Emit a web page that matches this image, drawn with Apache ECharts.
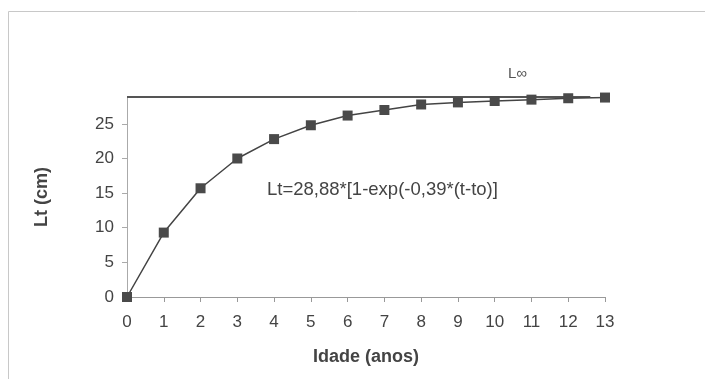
<!DOCTYPE html>
<html>
<head>
<meta charset="utf-8">
<script src="https://cdn.jsdelivr.net/npm/echarts@6/dist/echarts.min.js"></script>
<style>
  html, body { margin: 0; padding: 0; background: #fff; }
  #chart { width: 705px; height: 379px; }
</style>
</head>
<body>
<div id="chart"></div>
<script>
const ages = [0, 1, 2, 3, 4, 5, 6, 7, 8, 9, 10, 11, 12, 13];
const lengths = [0, 9.3, 15.7, 20.0, 22.8, 24.8, 26.2, 27.0, 27.8, 28.1, 28.3, 28.5, 28.7, 28.8];
const lInf = 28.88;
const lInfSpan = [0, 12.6];
const equation = 'Lt=28,88*[1-exp(-0,39*(t-to)]';

const chart = echarts.init(document.getElementById('chart'));
const font = '"Liberation Sans", Arial, sans-serif';

const option = {
  animation: false,
  backgroundColor: '#fff',
  grid: { left: 127, right: 100, top: 97, bottom: 82 },
  xAxis: {
    type: 'value',
    min: 0,
    max: 13,
    interval: 1,
    name: 'Idade (anos)',
    nameLocation: 'middle',
    nameGap: 51,
    nameTextStyle: { fontFamily: font, fontSize: 18, fontWeight: 'bold', color: '#444' },
    axisLine: { lineStyle: { color: '#999', width: 1 } },
    axisTick: { length: 5, lineStyle: { color: '#999' } },
    axisLabel: { fontFamily: font, fontSize: 17, color: '#444', margin: 17 },
    splitLine: { show: false }
  },
  yAxis: {
    type: 'value',
    min: 0,
    max: lInf,
    interval: 5,
    name: 'Lt (cm)',
    nameLocation: 'middle',
    nameGap: 76,
    nameRotate: 90,
    nameTextStyle: { fontFamily: font, fontSize: 18, fontWeight: 'bold', color: '#444' },
    axisLine: { show: true, lineStyle: { color: '#aaa', width: 1 } },
    axisTick: { show: true, length: 5, lineStyle: { color: '#aaa' } },
    axisLabel: { fontFamily: font, fontSize: 17, color: '#444', margin: 13, showMaxLabel: false },
    splitLine: { show: false }
  },
  series: [
    {
      name: 'Linf',
      type: 'line',
      data: lInfSpan.map(x => [x, lInf]),
      symbol: 'none',
      lineStyle: { color: '#555', width: 2 },
      z: 1
    },
    {
      name: 'Lt',
      type: 'line',
      data: ages.map((a, i) => [a, lengths[i]]),
      symbol: 'rect',
      symbolSize: 10,
      itemStyle: { color: '#4a4a4a' },
      lineStyle: { color: '#444', width: 1.5 },
      z: 2
    }
  ],
  graphic: [
    {
      type: 'rect',
      shape: { x: 8.5, y: 11.5, width: 720, height: 400 },
      style: { fill: 'none', stroke: '#c8c8c8', lineWidth: 1 },
      silent: true
    },
    {
      type: 'text',
      left: 267,
      top: 180,
      style: { text: equation, font: '18.5px ' + font, fill: '#444' }
    },
    {
      type: 'text',
      left: 508,
      top: 66,
      style: { text: 'L∞', font: '15px ' + font, fill: '#555' }
    }
  ]
};

chart.setOption(option);
</script>
</body>
</html>
